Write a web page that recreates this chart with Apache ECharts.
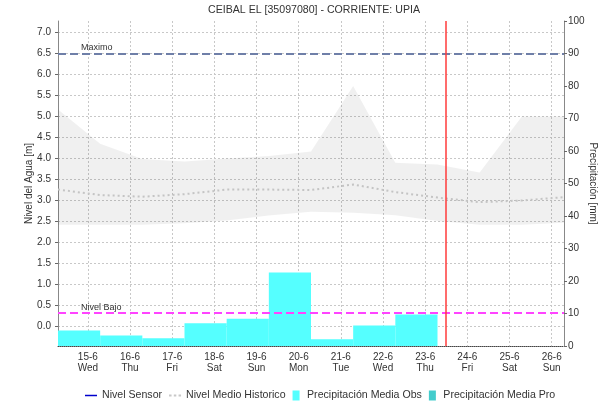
<!DOCTYPE html>
<html><head><meta charset="utf-8">
<script src="https://cdn.jsdelivr.net/npm/echarts@6/dist/echarts.min.js"></script>
<style>html,body{margin:0;padding:0;background:#fff}#c{width:615px;height:408px}</style>
</head><body><div id="c"></div>
<script>
// x unit: days, origin = 15-6 00:00 ; periods run 07:00 -> 07:00
const dayLabels = ['15-6','16-6','17-6','18-6','19-6','20-6','21-6','22-6','23-6','24-6','25-6','26-6'];
const weekDays  = ['Wed','Thu','Fri','Sat','Sun','Mon','Tue','Wed','Thu','Fri','Sat','Sun'];
const periodStart = -17/24;          // 14-6 07:00
const periodCount = 12;
// Precipitación media observada [mm], one value per 24h period (07:00-07:00)
const precipObs = [4.8, 3.2, 2.4, 7.0, 8.4, 22.6, 2.1, 6.3, 9.7];
const precipPro = [];
const nivelSensor = [];
// Historical band & mean [m], one value per 07:00 boundary (13 boundaries)
const histUpper = [5.16, 4.34, 3.98, 3.92, 3.99, 4.05, 4.16, 5.72, 3.89, 3.85, 3.66, 4.99, 4.99];
const histLower = [2.41, 2.41, 2.41, 2.45, 2.51, 2.63, 2.72, 2.70, 2.64, 2.50, 2.41, 2.41, 2.46];
const histMean  = [3.25, 3.12, 3.08, 3.14, 3.25, 3.25, 3.24, 3.37, 3.19, 3.06, 2.95, 2.99, 3.07];
const nivelMaximo = 6.5;
const nivelBajo = 0.31;
const ahora = 8.49;                  // current time marker (23-6 ~11:45)

const FONT = 'Liberation Sans';
const TXT = '#333';
const gridLine = {color: '#c8c8c8', type: [2, 2], width: 1};

const chart = echarts.init(document.getElementById('c'), null, {renderer: 'canvas'});

const boundaryX = k => periodStart + k;

chart.setOption({
  animation: false,
  backgroundColor: '#fff',
  textStyle: {fontFamily: FONT},
  title: {
    text: 'CEIBAL EL [35097080] - CORRIENTE: UPIA',
    left: 208, top: 5, padding: 0,
    textStyle: {fontFamily: FONT, fontSize: 10.6, fontWeight: 'normal', color: TXT}
  },
  legend: {
    left: 80, top: 385, itemWidth: 12, itemHeight: 10, itemGap: 7,
    textStyle: {fontFamily: FONT, fontSize: 10.6, color: TXT},
    data: [
      {name: 'Nivel Sensor', icon: 'path://M0,0h12v1.5h-12z', itemStyle: {color: '#0000cc', borderWidth: 0}},
      {name: 'Nivel Medio Historico', icon: 'path://M0,0h2.5v2h-2.5zM4.75,0h2.5v2h-2.5zM9.5,0h2.5v2h-2.5z', itemStyle: {color: '#c8c8c8', borderWidth: 0}},
      {name: 'Precipitación Media Obs', icon: 'path://M0,0h7v10h-7z', itemStyle: {color: '#55ffff', borderWidth: 0}},
      {name: 'Precipitación Media Pro', icon: 'path://M0,0h7v10h-7z', itemStyle: {color: '#44cccc', borderWidth: 0}}
    ]
  },
  grid: {left: 58, right: 51, top: 21, bottom: 62},
  xAxis: {
    type: 'value', min: periodStart, max: periodStart + periodCount,
    splitNumber: 12, minInterval: 1, maxInterval: 1,
    axisLine: {show: true, onZero: false, lineStyle: {color: '#444', type: [1, 1]}},
    axisTick: {show: false},
    axisLabel: {
      showMinLabel: false, showMaxLabel: false,
      fontFamily: FONT, fontSize: 10, lineHeight: 11, color: TXT, margin: 6,
      formatter: v => {
        const i = Math.round(v);
        if (Math.abs(v - i) > 1e-6 || i < 0 || i >= dayLabels.length) return '';
        return dayLabels[i] + '\n' + weekDays[i];
      }
    },
    splitLine: {show: true, showMinLine: false, showMaxLine: false, lineStyle: gridLine}
  },
  yAxis: [
    {
      type: 'value', position: 'left', min: -0.48, max: 7.27,
      splitNumber: 15, minInterval: 0.5, maxInterval: 0.5,
      name: 'Nivel del Agua [m]', nameLocation: 'middle', nameGap: 24, nameMoveOverlap: false,
      nameTextStyle: {fontFamily: FONT, fontSize: 10, color: TXT},
      axisLine: {show: true, onZero: false, lineStyle: {color: '#888'}},
      axisTick: {show: true, length: 3, lineStyle: {color: '#666'}},
      axisLabel: {
        showMinLabel: false, showMaxLabel: false, margin: 7,
        fontFamily: FONT, fontSize: 10, color: TXT,
        formatter: v => Math.abs(v * 2 - Math.round(v * 2)) < 1e-6 ? (Math.abs(v) < 1e-9 ? '0.0' : v.toFixed(1)) : ''
      },
      splitLine: {show: true, showMinLine: false, showMaxLine: false, lineStyle: gridLine}
    },
    {
      type: 'value', position: 'right', min: 0, max: 100, interval: 10,
      name: 'Precipitación [mm]', nameLocation: 'middle', nameRotate: -90, nameGap: 24, nameMoveOverlap: false,
      nameTextStyle: {fontFamily: FONT, fontSize: 10, color: TXT},
      axisLine: {show: true, onZero: false, lineStyle: {color: '#888'}},
      axisTick: {show: true, length: 3, lineStyle: {color: '#666'}},
      axisLabel: {margin: 4, fontFamily: FONT, fontSize: 10, color: TXT},
      splitLine: {show: false}
    }
  ],
  series: [
    {
      name: 'Banda Historica', type: 'custom', xAxisIndex: 0, yAxisIndex: 0, z: 1, silent: true,
      data: [[boundaryX(0), histUpper[0]]],
      renderItem: (params, api) => {
        const up = histUpper.map((v, k) => api.coord([boundaryX(k), v]));
        const lo = histLower.map((v, k) => api.coord([boundaryX(k), v])).reverse();
        return {type: 'polygon', shape: {points: up.concat(lo)}, style: {fill: 'rgba(0,0,0,0.06)'}};
      }
    },
    {
      name: 'Precipitación Media Obs', type: 'custom', xAxisIndex: 0, yAxisIndex: 1, z: 2,
      itemStyle: {color: '#55ffff'},
      encode: {x: [0, 1], y: 2},
      data: precipObs.map((v, i) => [boundaryX(i), boundaryX(i + 1), v]),
      renderItem: (params, api) => {
        const p0 = api.coord([api.value(0), 0]);
        const p1 = api.coord([api.value(1), api.value(2)]);
        return {type: 'rect', shape: {x: p0[0], y: p1[1], width: p1[0] - p0[0], height: p0[1] - p1[1]},
                style: {fill: '#55ffff'}};
      }
    },
    {
      name: 'Precipitación Media Pro', type: 'custom', xAxisIndex: 0, yAxisIndex: 1, z: 2,
      itemStyle: {color: '#44cccc'},
      data: precipPro,
      renderItem: () => null
    },
    {
      name: 'Nivel Medio Historico', type: 'line', xAxisIndex: 0, yAxisIndex: 0, z: 3,
      symbol: 'none', showSymbol: false, silent: true,
      itemStyle: {color: '#c4c4c4'},
      lineStyle: {color: '#c4c4c4', width: 2, type: [2, 3]},
      data: histMean.map((v, k) => [boundaryX(k), v])
    },
    {
      name: 'Nivel Sensor', type: 'line', xAxisIndex: 0, yAxisIndex: 0, z: 4,
      symbol: 'none', itemStyle: {color: '#0000cc'}, lineStyle: {color: '#0000cc', width: 1.5},
      data: nivelSensor
    },
    {
      name: 'Referencias', type: 'line', xAxisIndex: 0, yAxisIndex: 0, z: 5,
      symbol: 'none', data: histMean.map((v, k) => [boundaryX(k), v]),
      lineStyle: {opacity: 0},
      markLine: {
        silent: true, symbol: ['none', 'none'], animation: false,
        data: [
          {yAxis: nivelMaximo, lineStyle: {color: '#6f7fa8', width: 2, type: [8, 4]},
           label: {show: true, formatter: 'Maximo', position: 'insideStartTop', distance: [23, 1],
                   fontFamily: FONT, fontSize: 9, color: TXT}},
          {yAxis: nivelBajo, lineStyle: {color: '#ff44ff', width: 2, type: [8, 4]},
           label: {show: true, formatter: 'Nivel Bajo', position: 'insideStartTop', distance: [23, 1],
                   fontFamily: FONT, fontSize: 9, color: TXT}},
          {xAxis: ahora, lineStyle: {color: '#ff3b3b', width: 1.5, type: 'solid'}, label: {show: false}}
        ]
      }
    }
  ]
});
</script>
</body></html>
